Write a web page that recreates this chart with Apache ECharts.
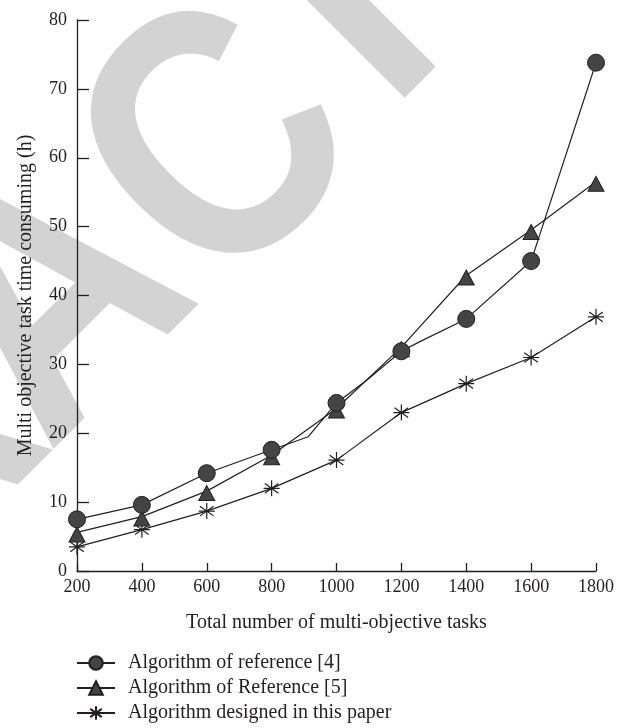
<!DOCTYPE html>
<html>
<head>
<meta charset="utf-8">
<script src="https://cdn.jsdelivr.net/npm/echarts@6/dist/echarts.min.js"></script>
<style>
html,body{margin:0;padding:0;background:#fff;}
#chart{width:624px;height:728px;}
</style>
</head>
<body>
<div id="chart"></div>
<script>
// ---- data ----
const tasks = [200, 400, 600, 800, 1000, 1200, 1400, 1600, 1800];
const xTicks = [200, 400, 600, 800, 1000, 1200, 1400, 1600, 1800];
const yTicks = [0, 10, 20, 30, 40, 50, 60, 70, 80];
const ref4 = [7.5, 9.6, 14.2, 17.6, 24.4, 31.9, 36.6, 45.0, 73.8];
const ref4BendX = [913, 1093, 1257];   // unmarked bends of the reference [4] line
const ref4BendY = [19.5, 27.7, 33.3];
const ref5 = [5.6, 7.9, 11.6, 16.8, 23.6, 32.5, 42.9, 49.5, 56.5];
const ours = [3.5, 6.0, 8.7, 12.0, 16.1, 23.0, 27.2, 31.0, 36.9];
const seriesNames = ['Algorithm of reference [4]', 'Algorithm of Reference [5]', 'Algorithm designed in this paper'];
const xName = 'Total number of multi-objective tasks';
const yName = 'Multi objective task time consuming (h)';
const watermarkLetters = ['R', 'A', 'C', 'T'];

// ---- build ----
function pairs(xs, ys) { return xs.map((x, i) => [x, ys[i]]); }
const ref4Line = pairs(tasks, ref4).map(p => ({value: p}))
  .concat(pairs(ref4BendX, ref4BendY).map(p => ({value: p, symbol: 'none'})))
  .sort((a, b) => a.value[0] - b.value[0]);

const INK = '#231f20';
const FILL = '#444444';
const serif = '"Liberation Serif", "DejaVu Serif", serif';
const starPath = 'path://M10,0L10,20M0,10L20,10M1.5,4L18.5,16M1.5,16L18.5,4';

const wmPos = [[-91, 453], [56, 306], [226, 154], [350, 12]];
const graphics = watermarkLetters.map((ch, i) => ({
  type: 'text',
  x: wmPos[i][0], y: wmPos[i][1],
  rotation: Math.PI / 4,
  scaleX: 0.85,
  z: -10,
  silent: true,
  style: {
    text: ch,
    fill: '#d3d3d3',
    font: 'bold 360px "Liberation Sans", Arial, sans-serif',
    align: 'center',
    verticalAlign: 'middle'
  }
}));

const chart = echarts.init(document.getElementById('chart'), null, {renderer: 'canvas'});
chart.setOption({
  animation: false,
  backgroundColor: '#ffffff',
  graphic: graphics,
  grid: {left: 77, right: 28, top: 20, bottom: 157, containLabel: false},
  xAxis: {
    type: 'value', min: xTicks[0], max: xTicks[xTicks.length - 1], interval: 200,
    name: xName, nameLocation: 'middle', nameGap: 42,
    nameTextStyle: {fontFamily: serif, fontSize: 20, color: INK},
    axisLine: {lineStyle: {color: INK, width: 1.3}},
    axisTick: {inside: true, length: 8, lineStyle: {color: INK, width: 1.3}},
    axisLabel: {fontFamily: serif, fontSize: 18, color: INK, margin: 7, formatter: v => String(v)},
    splitLine: {show: false}
  },
  yAxis: {
    type: 'value', min: yTicks[0], max: yTicks[yTicks.length - 1], interval: 10,
    name: yName, nameLocation: 'middle', nameGap: 41, nameRotate: 90,
    nameTextStyle: {fontFamily: serif, fontSize: 20, color: INK},
    axisLine: {show: true, lineStyle: {color: INK, width: 1.3}},
    axisTick: {show: true, inside: true, length: 12, lineStyle: {color: INK, width: 1.3}},
    axisLabel: {fontFamily: serif, fontSize: 18, color: INK, margin: 10},
    splitLine: {show: false}
  },
  legend: {
    orient: 'vertical', left: 76, top: 653, itemGap: 5, padding: 0,
    itemWidth: 38, itemHeight: 17,
    data: seriesNames,
    textStyle: {fontFamily: serif, fontSize: 20, lineHeight: 20, color: INK, padding: [0, 0, 0, 8]}
  },
  series: [
    {
      name: seriesNames[0], type: 'line', data: ref4Line, z: 4,
      symbol: 'circle', symbolSize: 17,
      lineStyle: {color: INK, width: 1.2},
      itemStyle: {color: FILL, borderColor: INK, borderWidth: 1}
    },
    {
      name: seriesNames[1], type: 'line', data: pairs(tasks, ref5), z: 3,
      symbol: 'triangle', symbolSize: [16, 15], symbolOffset: [0, 2],
      lineStyle: {color: INK, width: 1.2},
      itemStyle: {color: FILL, borderColor: INK, borderWidth: 1}
    },
    {
      name: seriesNames[2], type: 'line', data: pairs(tasks, ours), z: 2,
      symbol: starPath, symbolSize: 16,
      lineStyle: {color: INK, width: 1.2},
      itemStyle: {color: 'none', borderColor: INK, borderWidth: 1.2}
    }
  ]
});
</script>
</body>
</html>
